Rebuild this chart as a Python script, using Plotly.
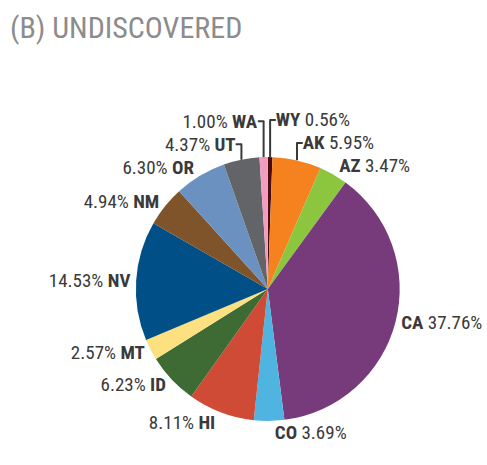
import plotly.graph_objects as go

states = ["WY", "AK", "AZ", "CA", "CO", "HI", "ID", "MT", "NV", "NM", "OR", "UT", "WA"]
shares = [0.56, 5.95, 3.47, 37.76, 3.69, 8.11, 6.23, 2.57, 14.53, 4.94, 6.30, 4.37, 1.00]
colors = ["#4a0c10", "#f5821f", "#8cc63f", "#773b7b", "#4fb4e0", "#d04b35",
          "#3e6b34", "#fde07f", "#005087", "#80542a", "#6b91c1", "#636467", "#f29cbf"]
right_side = ["WY", "AK", "AZ", "CA", "CO"]

templates = []
for s in states:
    if s in right_side:
        templates.append("<b>%{label}</b> %{value:.2f}%")
    else:
        templates.append("%{value:.2f}% <b>%{label}</b>")

FONT = "Roboto Condensed, Liberation Sans Narrow, sans-serif"

fig = go.Figure(go.Pie(
    labels=states,
    values=shares,
    sort=False,
    direction="clockwise",
    rotation=0,
    marker=dict(colors=colors, line=dict(width=0)),
    texttemplate=templates,
    textposition="outside",
    textfont=dict(family=FONT, size=19, color="#3a3a3a"),
    hoverinfo="label+value",
    showlegend=False,
    domain=dict(x=[137/487, 403/487], y=[1-422/465, 1-156/465]),
))

fig.update_layout(
    width=487, height=465,
    margin=dict(l=0, r=0, t=0, b=0),
    paper_bgcolor="white",
    plot_bgcolor="white",
    annotations=[dict(
        text="(B) UNDISCOVERED", x=8/487, y=1-8/465, xref="paper", yref="paper",
        xanchor="left", yanchor="top", showarrow=False,
        font=dict(family=FONT, size=30, color="#8c8c8c"),
    )],
)

fig.write_html("out.html", config={"displayModeBar": False},
               post_script="document.body.style.margin='0';")
